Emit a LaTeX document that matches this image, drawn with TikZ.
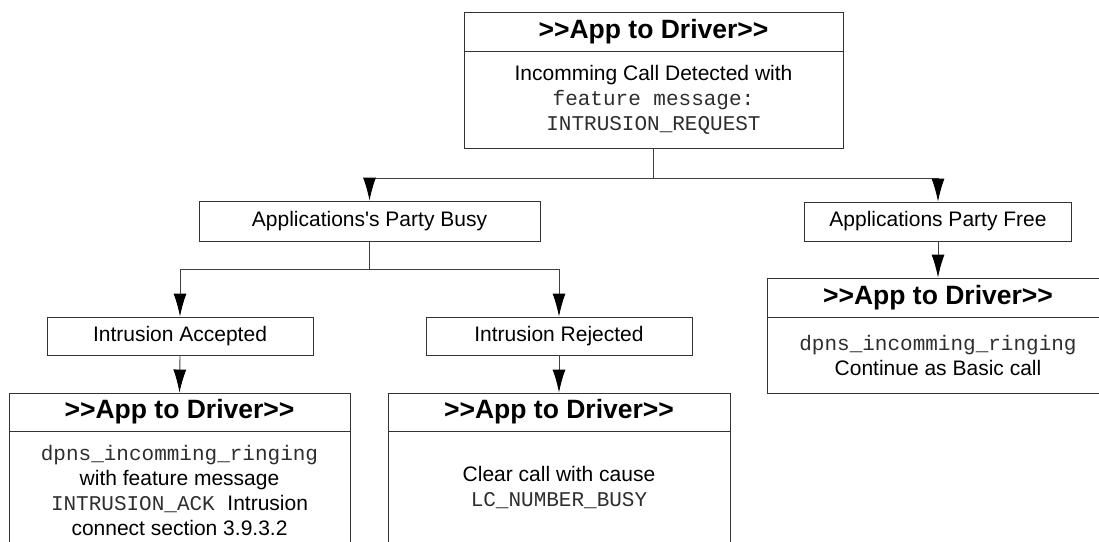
\documentclass[tikz,border=0pt]{standalone}
\usepackage{fontspec}
\setmainfont{Liberation Sans}
\setsansfont{Liberation Sans}
\setmonofont{Liberation Mono}
\usetikzlibrary{arrows.meta}
% identifiers and message names are set in a light monospace
\newcommand\codetext[1]{{\ttfamily\color{black!82}#1}}
\begin{document}
\begin{tikzpicture}[x=1pt,y=-1pt,
  box/.style={draw=black!80, line width=0.9pt, rectangle, inner sep=0pt,
    align=center, font=\fontsize{21}{25}\selectfont},
  headbox/.style={box, font=\fontsize{26.5}{30}\selectfont\bfseries},
  link/.style={draw=black!75, line width=0.9pt,
    -{Latex[length=23pt,width=13pt,color=black]}}]
\useasboundingbox (0,0) rectangle (1099,541);
\clip (0,0) rectangle (1099,541);

% top request block
\node[headbox, minimum width=379pt, minimum height=39pt] (tophead) at (653.5,31.5) {>{}>App to Driver>{}>};
\node[box, minimum width=379pt, minimum height=97pt] (topbody) at (653.5,99.5)
  {Incomming Call Detected with\\ \codetext{feature message:}\\ \codetext{INTRUSION\_REQUEST}};

% party state
\node[box, minimum width=341pt, minimum height=40pt] (busy) at (369.5,221) {Applications\textquotesingle s Party Busy};
\node[box, minimum width=267pt, minimum height=39pt] (free) at (938,221.5) {Applications Party Free};

% free party result
\node[headbox, minimum width=342pt, minimum height=39pt] (rhead) at (938,297.5) {>{}>App to Driver>{}>};
\node[box, minimum width=342pt, minimum height=76pt] (rbody) at (938,355)
  {\codetext{dpns\_incomming\_ringing}\\ Continue as Basic call};

% intrusion decision
\node[box, minimum width=266pt, minimum height=38pt] (acc) at (180,336) {Intrusion Accepted};
\node[box, minimum width=266pt, minimum height=38pt] (rej) at (559,336) {Intrusion Rejected};

% accepted result
\node[headbox, minimum width=341pt, minimum height=38pt] (lhead) at (179.5,412) {>{}>App to Driver>{}>};
\node[box, minimum width=341pt, minimum height=118pt] (lbody) at (179.5,490)
  {\codetext{dpns\_incomming\_ringing}\\ with feature message\\
   \codetext{INTRUSION\_ACK\ }Intrusion\\ connect section 3.9.3.2};

% rejected result
\node[headbox, minimum width=342pt, minimum height=38pt] (mhead) at (559,412) {>{}>App to Driver>{}>};
\node[box, minimum width=342pt, minimum height=114pt] (mbody) at (559,488)
  {Clear call with cause\\ \codetext{LC\_NUMBER\_BUSY}};

% connectors
\draw[link] (topbody.south) -- ++(0,30) -| (busy.north);
\draw[link] (topbody.south) -- ++(0,30) -| (free.north);
\draw[link] (busy.south) -- ++(0,28) -| (acc.north);
\draw[link] (busy.south) -- ++(0,28) -| (rej.north);
\draw[link] (free.south) -- (rhead.north);
\draw[link] (acc.south) -- (lhead.north);
\draw[link] (rej.south) -- (mhead.north);
\end{tikzpicture}
\end{document}
